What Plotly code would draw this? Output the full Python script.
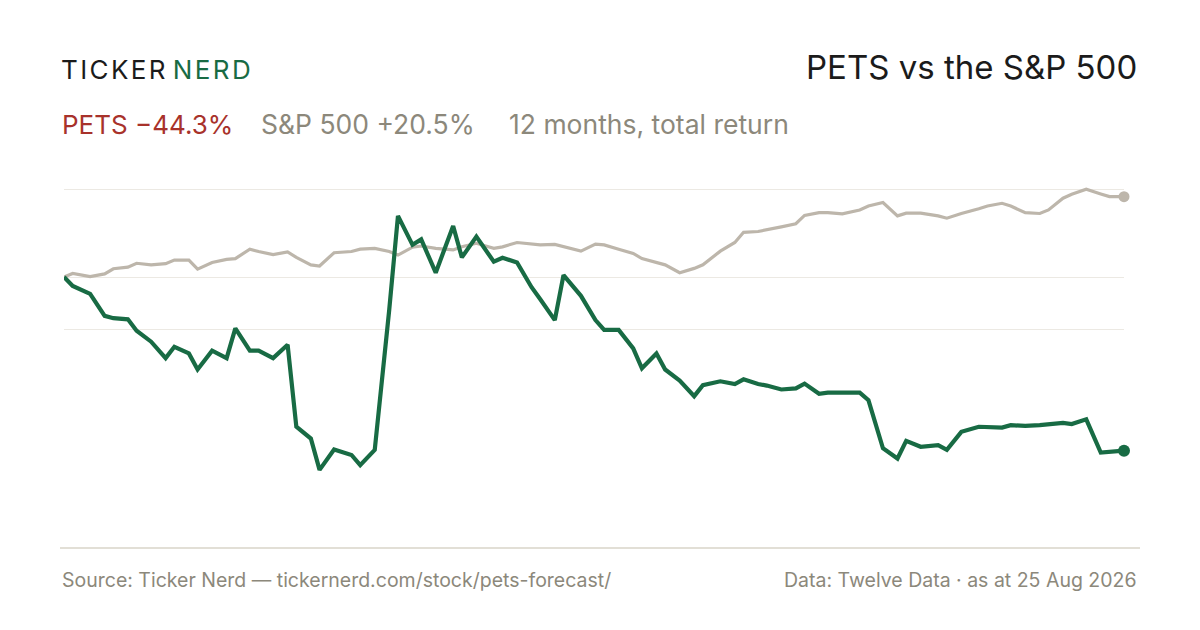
import pandas as pd
import plotly.graph_objects as go

# every third trading day, 25 Aug 2025 -> 25 Aug 2026
START = '2025-08-25'
END = '2026-08-25'
HOLIDAYS = ['2025-09-01', '2025-11-27', '2026-01-01', '2026-01-19', '2026-02-16',
            '2026-04-03', '2026-05-25', '2026-06-19', '2026-07-03']

# cumulative total return, %
pets_return = [0.0, -2.3, -4.3, -9.9, -10.5, -10.8, -13.7, -16.5, -20.7, -17.8,
               -19.5, -23.6, -18.8, -20.7, -13.1, -18.8, -18.8, -20.7, -17.3, -38.2,
               -41.2, -49.2, -44.0, -45.4, -48.0, -44.1, -8.3, 15.6, 8.2, 9.6,
               1.1, 13.0, 5.0, 10.3, 3.9, 4.9, 3.7, -2.6, -5.7, -11.0,
               0.5, -4.8, -11.0, -13.5, -13.5, -18.2, -23.3, -19.5, -23.6, -26.4,
               -30.4, -27.6, -26.6, -27.3, -26.1, -27.3, -27.7, -28.7, -28.4, -27.2,
               -29.8, -29.5, -29.5, -29.5, -31.4, -43.7, -46.3, -41.8, -43.3, -42.9,
               -44.1, -39.5, -38.2, -38.2, -38.4, -37.8, -38.0, -37.8, -37.5, -37.2,
               -37.5, -36.3, -44.8, -44.6, -44.3]

spx_return = [0.0, 0.9, 0.1, 0.8, 2.1, 2.5, 3.5, 3.1, 3.4, 4.3,
              4.3, 2.0, 3.7, 4.5, 4.7, 7.1, 6.5, 5.7, 6.4, 5.0,
              3.1, 2.8, 6.2, 6.5, 7.1, 7.3, 6.5, 5.6, 7.6, 7.9,
              7.3, 6.9, 7.7, 8.6, 7.3, 7.7, 8.8, 8.4, 8.2, 8.3,
              7.7, 6.6, 8.4, 8.2, 7.1, 6.0, 4.7, 3.6, 3.1, 1.1,
              2.2, 3.1, 6.6, 8.8, 11.4, 11.6, 12.0, 12.8, 13.6, 15.7,
              16.4, 16.4, 16.1, 17.1, 18.1, 19.0, 15.6, 16.3, 16.3, 15.6,
              15.0, 16.2, 17.4, 18.1, 18.8, 18.1, 16.4, 16.2, 17.1, 20.1,
              21.1, 22.4, 21.2, 20.5, 20.5]

grid_values = [22.4, 0, -13.4]

GREEN = '#186b44'
TAUPE = '#bdb6ab'
RED = '#a8322b'
GREY = '#8c887b'
INK = '#1b1b1b'
FONT = 'Inter, Noto Sans, sans-serif'

# the page body adds an 8px margin, so the figure is 8px smaller than the window
PAGE = 8
W, H = 1192, 622
L, R, T, B = 56, 76, 162, 110
PLOT_W, PLOT_H = W - L - R, H - T - B


def px_x(x):
    return (x - PAGE - L) / PLOT_W


def px_y(y):
    return (H - B - (y - PAGE)) / PLOT_H


days = pd.bdate_range(START, END, freq='C', holidays=HOLIDAYS)
dates = list(days[::3])
if dates[-1] != pd.Timestamp(END):
    dates.append(pd.Timestamp(END))
n = min(len(dates), len(pets_return), len(spx_return))
dates = dates[:n]

fig = go.Figure()
fig.add_trace(go.Scatter(x=dates, y=spx_return[:n], mode='lines',
                         line=dict(color=TAUPE, width=3.2), hoverinfo='skip'))
fig.add_trace(go.Scatter(x=dates, y=pets_return[:n], mode='lines',
                         line=dict(color=GREEN, width=4.2), hoverinfo='skip'))
fig.add_trace(go.Scatter(x=[dates[-1]], y=[spx_return[n - 1]], mode='markers',
                         marker=dict(color=TAUPE, size=11), cliponaxis=False,
                         hoverinfo='skip'))
fig.add_trace(go.Scatter(x=[dates[-1]], y=[pets_return[n - 1]], mode='markers',
                         marker=dict(color=GREEN, size=12), cliponaxis=False,
                         hoverinfo='skip'))

# on the page 0% sits at y=277px, 3.92px per percentage point
y_top = (277 - (T + PAGE)) / 3.92
y_bot = (277 - (H - B + PAGE)) / 3.92

fig.update_xaxes(range=[dates[0], dates[-1]], showgrid=False, showticklabels=False,
                 zeroline=False, showline=False, ticks='')
fig.update_yaxes(range=[y_bot, y_top], tickvals=grid_values, showticklabels=False,
                 showgrid=True, gridcolor='#ece9e3', gridwidth=1.2, zeroline=False,
                 showline=False, ticks='')

fig.add_shape(type='line', xref='paper', yref='paper',
              x0=px_x(60), x1=px_x(1140), y0=px_y(548), y1=px_y(548),
              line=dict(color='#e2dfd6', width=2))


def note(text, x, y, size, color, anchor='left'):
    fig.add_annotation(text=text, x=px_x(x), y=px_y(y), xref='paper', yref='paper',
                       xanchor=anchor, yanchor='middle', showarrow=False,
                       font=dict(family=FONT, size=size, color=color))


note(f'<span style="letter-spacing:2.4px">TICKER\u200a</span>'
     f'<span style="letter-spacing:2.4px;color:{GREEN}">NERD</span>', 59, 70, 26, INK)
note('PETS vs the S&P 500', 1139, 67, 33, INK, anchor='right')

note('PETS \u221244.3%', 60, 124, 26, RED)
note('S&P 500 +20.5%', 259, 124, 26.5, GREY)
note('12 months, total return', 507, 124, 26.5, GREY)

note('Source: Ticker Nerd \u2014 tickernerd.com/stock/pets-forecast/', 60, 580, 19.5, GREY)
note('Data: Twelve Data \u00b7 as at 25 Aug 2026', 1139, 580, 19.5, GREY, anchor='right')

fig.update_layout(width=W, height=H, margin=dict(l=L, r=R, t=T, b=B),
                  paper_bgcolor='white', plot_bgcolor='white', showlegend=False,
                  font=dict(family=FONT))

fig.write_html('out.html')
